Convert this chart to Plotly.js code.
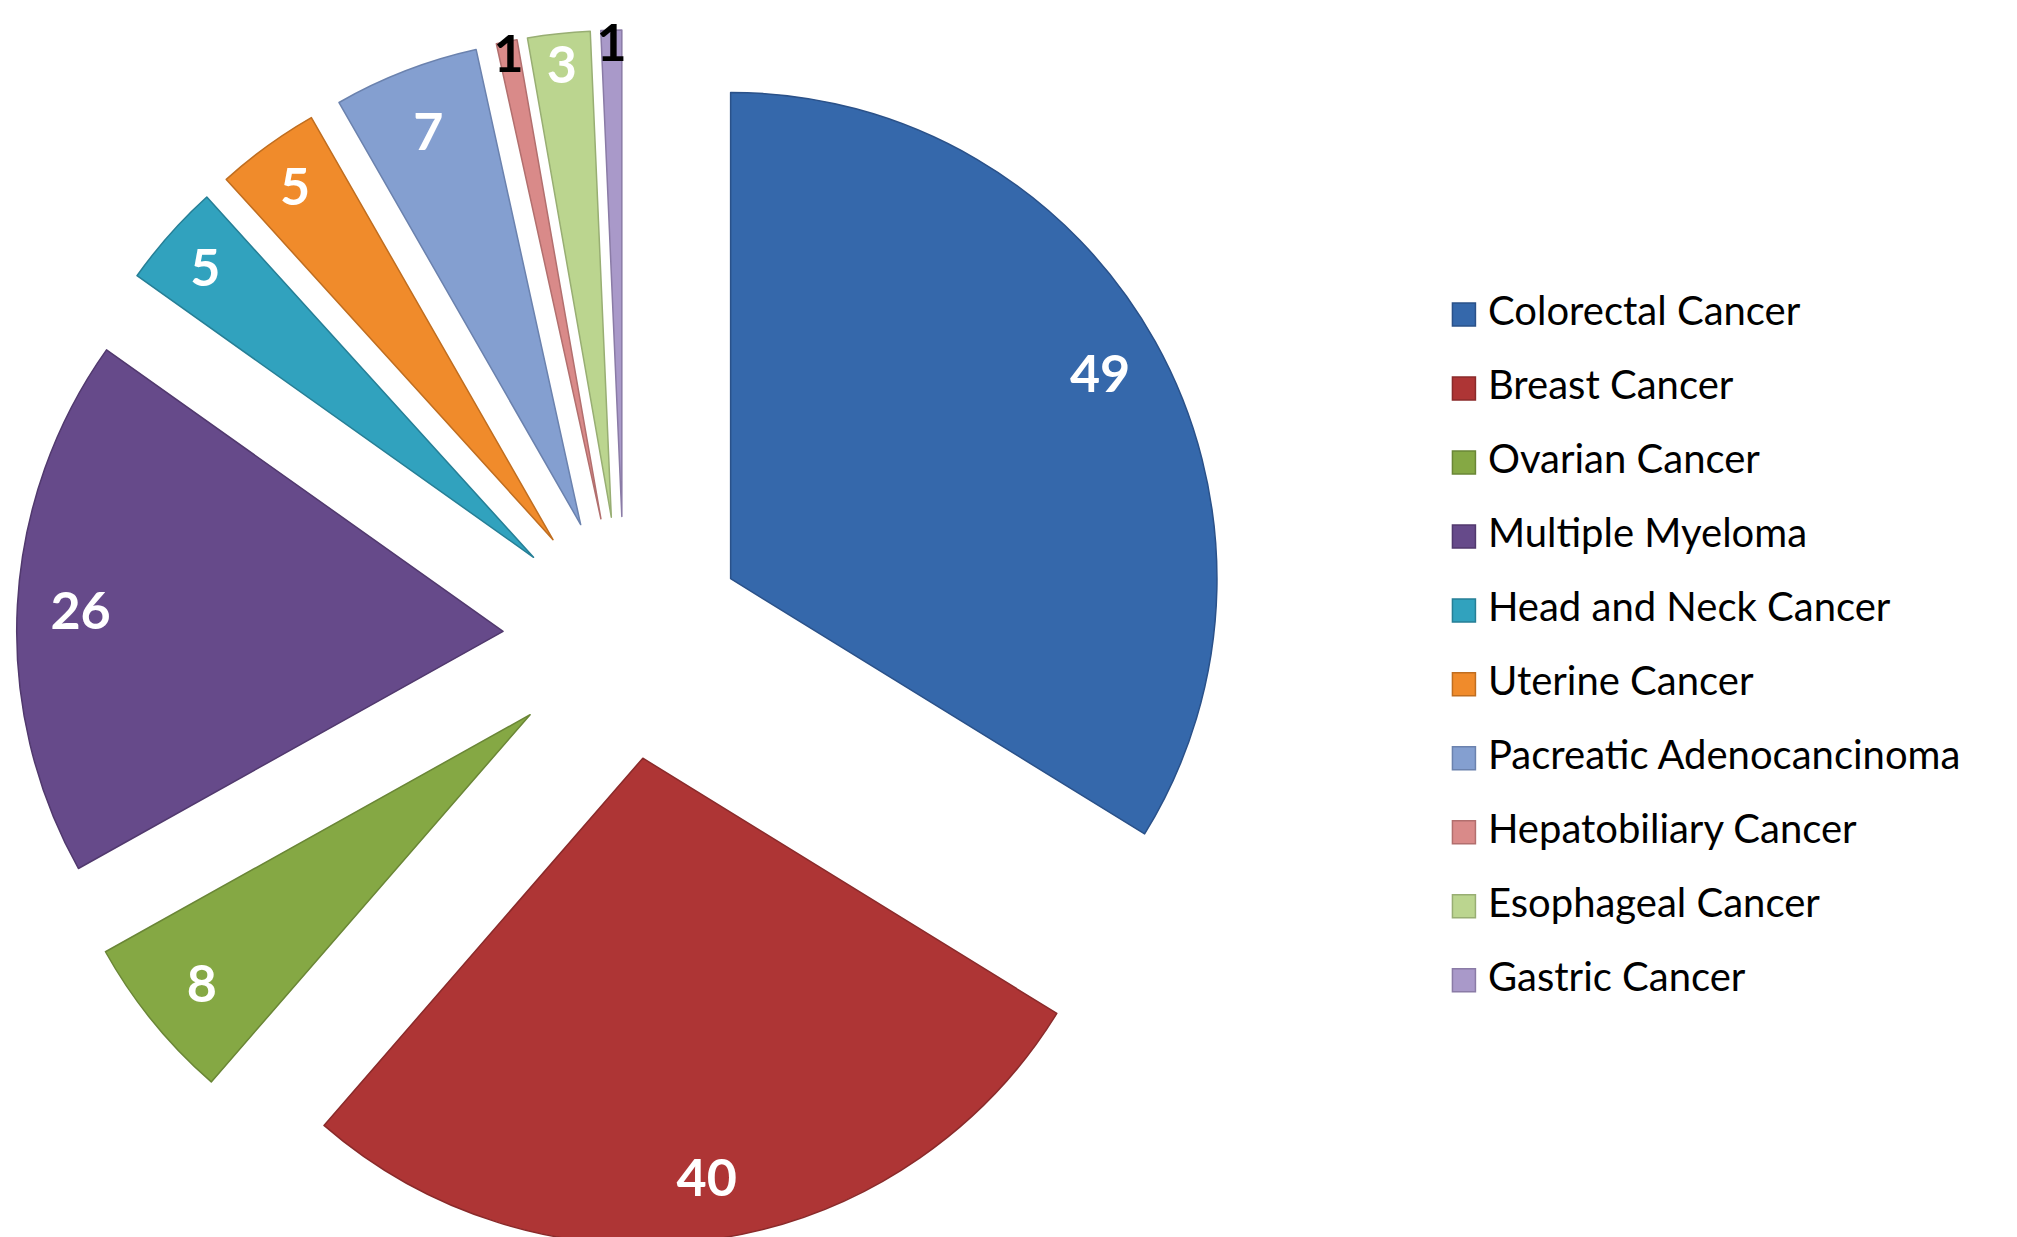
<!DOCTYPE html>
<html>
<head>
<meta charset="utf-8">
<script src="https://cdn.plot.ly/plotly-3.0.1.min.js"></script>
<style>
  html, body { margin: 0; padding: 0; overflow: hidden; background: #ffffff; }
  #chart { width: 2017px; height: 1246px; }
</style>
</head>
<body>
<div id="chart"></div>
<script>
// ---- data ----
const categories = [
  "Colorectal Cancer",
  "Breast Cancer",
  "Ovarian Cancer",
  "Multiple Myeloma",
  "Head and Neck Cancer",
  "Uterine Cancer",
  "Pacreatic Adenocancinoma",
  "Hepatobiliary Cancer",
  "Esophageal Cancer",
  "Gastric Cancer"
];
const patientCounts = [49, 40, 8, 26, 5, 5, 7, 1, 3, 1];

// ---- styling ----
const sliceColors = ["#3568AB", "#AE3535", "#85A844", "#664A8A", "#31A2BE",
                     "#F08B2B", "#849FD0", "#D98A89", "#BBD58F", "#A999C9"];
const edgeColors  = ["#2A5189", "#8A2A2A", "#6A8636", "#51396E", "#267F96",
                     "#C06E20", "#6B82AE", "#B26F6E", "#98AE73", "#8A7BA6"];
const valueLabelColors = ["#ffffff", "#ffffff", "#ffffff", "#ffffff", "#ffffff",
                          "#ffffff", "#ffffff", "#000000", "#ffffff", "#000000"];

const legendLabels = categories.map(c => '<span style="font-size:40px">' + c + '</span><br>\u00a0');
const pullAll = categories.map(() => 0.25);
const pieDomain = { x: [0.0082, 0.6110], y: [0, 1] };

const pieTrace = {
  type: "pie",
  labels: legendLabels,
  values: patientCounts,
  sort: false,
  direction: "clockwise",
  rotation: 0,
  pull: pullAll,
  domain: pieDomain,
  textinfo: "none",
  hoverinfo: "label+value",
  marker: { colors: sliceColors, line: { color: edgeColors, width: 1.5 } },
  showlegend: true
};

const labelTrace = {
  type: "pie",
  labels: legendLabels,
  values: patientCounts,
  sort: false,
  direction: "clockwise",
  rotation: 0,
  pull: pullAll,
  hole: 0.74,
  domain: pieDomain,
  textinfo: "value",
  textposition: "inside",
  insidetextorientation: "horizontal",
  textfont: { family: "Lato, 'Open Sans', sans-serif", size: 52, weight: "bold", color: valueLabelColors },
  hoverinfo: "skip",
  marker: { colors: categories.map(() => "rgba(0,0,0,0)"), line: { width: 0 } },
  showlegend: false
};

const layout = {
  width: 2017,
  height: 1246,
  margin: { l: 0, r: 0, t: 30, b: 0, autoexpand: false },
  paper_bgcolor: "#ffffff",
  plot_bgcolor: "#ffffff",
  font: { family: "Lato, 'Open Sans', sans-serif", color: "#000000" },
  uniformtext: { mode: "show", minsize: 52 },
  showlegend: true,
  legend: {
    x: 0.7139, xanchor: "left",
    y: 0.786, yanchor: "top",
    valign: "top",
    font: { family: "Lato, 'Open Sans', sans-serif", size: 27.3, color: "#000000" },
    bgcolor: "rgba(0,0,0,0)",
    borderwidth: 0,
    itemwidth: 38
  }
};

Plotly.newPlot("chart", [pieTrace, labelTrace], layout, { displayModeBar: false, staticPlot: true })
  .then(function () {
    document.querySelectorAll("#chart .legendpie").forEach(function (p) {
      p.setAttribute("d", "M11.5,11.5V-11.5H-11.5V11.5Z");
    });
  });
</script>
</body>
</html>
